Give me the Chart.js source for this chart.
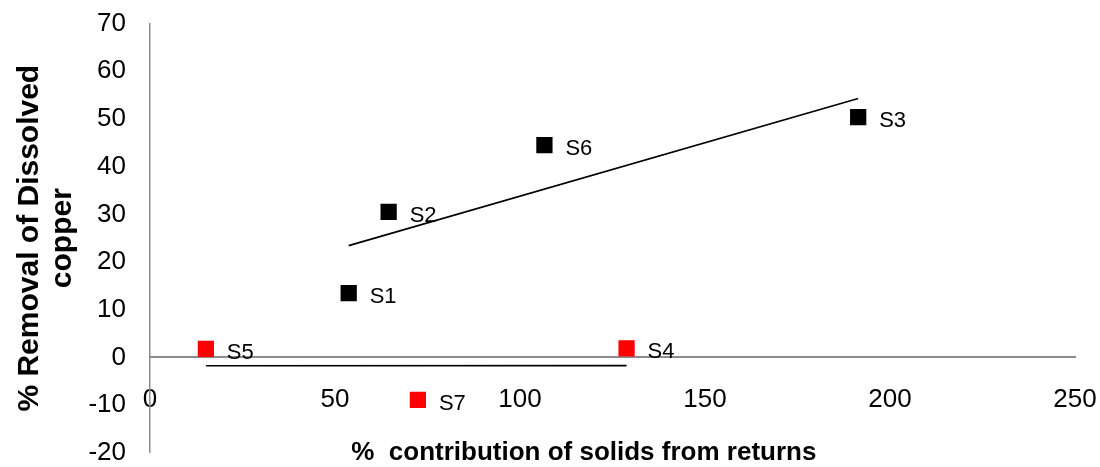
<!DOCTYPE html>
<html>
<head>
<meta charset="utf-8">
<script src="https://cdn.jsdelivr.net/npm/chart.js@4/dist/chart.umd.min.js"></script>
<style>
  html, body { margin: 0; padding: 0; background: #fff; }
  #wrap { width: 1100px; height: 467px; }
</style>
</head>
<body>
<div id="wrap"><canvas id="chart"></canvas></div>
<script>
// sites with positive removal (black) and the ones near / below zero (red)
const blackNames = ['S1', 'S2', 'S6', 'S3'];
const blackX = [53.7, 64.5, 106.6, 191.4];
const blackY = [13.5, 30.5, 44.5, 50.4];

const redNames = ['S5', 'S4', 'S7'];
const redX = [15.1, 128.8, 72.4];
const redY = [1.8, 1.9, -8.9];

const xTitle = '%  contribution of solids from returns';
const yTitle = ['% Removal of Dissolved', 'copper'];

const FONT = '"Liberation Sans", Arial, sans-serif';

function toPoints(xs, ys) {
  return xs.map((x, i) => ({ x: x, y: ys[i] }));
}

// least squares fit, drawn between the smallest and largest x of the group
function trend(xs, ys) {
  const n = xs.length;
  const mx = xs.reduce((a, b) => a + b, 0) / n;
  const my = ys.reduce((a, b) => a + b, 0) / n;
  let sxy = 0, sxx = 0;
  xs.forEach((x, i) => { sxy += (x - mx) * (ys[i] - my); sxx += (x - mx) * (x - mx); });
  const slope = sxy / sxx;
  const b = my - slope * mx;
  const lo = Math.min(...xs), hi = Math.max(...xs);
  return [{ x: lo, y: slope * lo + b }, { x: hi, y: slope * hi + b }];
}

const pointLabels = {
  id: 'pointLabels',
  afterDatasetsDraw(chart) {
    const ctx = chart.ctx;
    ctx.save();
    ctx.fillStyle = '#000';
    ctx.font = '22px ' + FONT;
    ctx.textAlign = 'left';
    ctx.textBaseline = 'middle';
    [[0, blackNames], [1, redNames]].forEach(([di, names]) => {
      chart.getDatasetMeta(di).data.forEach((pt, i) => {
        ctx.fillText(names[i], pt.x + 21, pt.y + 4);
      });
    });
    // x axis title sits under the plot, a bit left of centre
    const area = chart.chartArea;
    ctx.font = 'bold 26px ' + FONT;
    ctx.textAlign = 'center';
    ctx.fillText(xTitle, area.left + (area.right - area.left) * 0.469, area.bottom);
    ctx.restore();
  }
};

// invisible tick marks keep the labels away from the axis line
const hiddenTicks = (len) => ({
  display: true,
  drawOnChartArea: false,
  drawTicks: true,
  tickLength: len,
  color: 'rgba(0,0,0,0)'
});

new Chart(document.getElementById('chart'), {
  type: 'scatter',
  data: {
    datasets: [
      {
        data: toPoints(blackX, blackY),
        backgroundColor: '#000',
        borderColor: '#000',
        pointStyle: 'rect',
        pointRadius: 11.5,
        borderWidth: 0
      },
      {
        data: toPoints(redX, redY),
        backgroundColor: '#ff0000',
        borderColor: '#ff0000',
        pointStyle: 'rect',
        pointRadius: 11.5,
        borderWidth: 0
      },
      {
        type: 'line',
        data: trend(blackX, blackY),
        borderColor: '#000',
        borderWidth: 1.6,
        pointRadius: 0,
        fill: false
      },
      {
        type: 'line',
        data: trend(redX, redY),
        borderColor: '#000',
        borderWidth: 1.6,
        pointRadius: 0,
        fill: false
      }
    ]
  },
  options: {
    responsive: true,
    maintainAspectRatio: false,
    animation: false,
    layout: { padding: { left: 0, top: 23.6, right: 25, bottom: 14.2 } },
    plugins: {
      legend: { display: false },
      tooltip: { enabled: false }
    },
    scales: {
      x: {
        type: 'linear',
        position: { y: 0 },
        min: 0,
        max: 250,
        grid: hiddenTicks(29),
        border: { display: true, color: '#8c8c8c', width: 2 },
        ticks: {
          stepSize: 50,
          padding: 0,
          color: '#000',
          font: { family: FONT, size: 26, lineHeight: 1.0 }
        },
        afterFit(scale) { scale.height = 0; }
      },
      y: {
        type: 'linear',
        min: -20,
        max: 70,
        grid: hiddenTicks(24),
        border: { display: true, color: '#8c8c8c', width: 1.5 },
        ticks: {
          stepSize: 10,
          padding: 0,
          color: '#000',
          font: { family: FONT, size: 26, lineHeight: 1.0 }
        },
        title: {
          display: true,
          text: yTitle,
          color: '#000',
          font: { family: FONT, size: 30, weight: 'bold', lineHeight: 1.1 },
          padding: { top: 13, bottom: 0 }
        },
        afterFit(scale) { scale.width = 150; }
      }
    }
  },
  plugins: [pointLabels]
});
</script>
</body>
</html>
